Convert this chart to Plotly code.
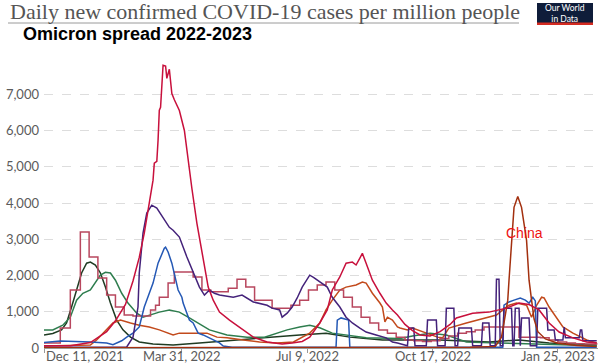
import pandas as pd
import plotly.graph_objects as go

# ---------------- data ----------------
base_date = pd.Timestamp("2021-12-11")
end_offset_days = 442

tick_dates = ["2021-12-11", "2022-03-31", "2022-07-09", "2022-10-17", "2023-01-25"]
tick_labels = ["Dec 11, 2021", "Mar 31, 2022", "Jul 9, 2022", "Oct 17, 2022", "Jan 25, 2023"]
y_ticks = [0, 1000, 2000, 3000, 4000, 5000, 6000, 7000]

# days since 2021-12-11, daily new cases per million
crimson_days = [0, 21, 37, 50, 57, 65, 71, 76, 80, 84, 87, 88, 90, 91, 92, 93, 95, 97, 98, 100,
                102, 104, 107, 108, 112, 114, 118, 122, 127, 131, 135, 140, 148, 156, 167, 178, 190, 198, 206, 212,
                220, 226, 230, 236, 241, 246, 249, 252, 254, 257, 262, 268, 273, 278, 282, 288, 294, 300, 308, 316,
                324, 329, 342, 355, 369, 379, 387, 395, 403, 411, 422, 433, 441]
crimson_vals = [60, 60, 150, 450, 750, 1200, 1850, 2500, 3170, 4080, 4630, 5100, 5150, 5730, 6560, 6640, 7800, 7780, 7440, 7690,
                7020, 6850, 6650, 6550, 6000, 5450, 4400, 3440, 2500, 1680, 1320, 990, 770, 580, 300, 165, 110, 140, 180, 300,
                690, 1050, 1600, 1960, 2340, 2370, 2290, 2480, 2610, 2340, 1870, 1510, 1240, 1050, 910, 650, 480, 360, 330, 450,
                650, 830, 960, 990, 1100, 1240, 1200, 1050, 690, 440, 280, 165, 140]

purple_days = [0, 61, 66, 71, 75, 76, 79, 82, 86, 90, 95, 100, 103, 108, 114, 119, 124, 128, 132, 136,
               140, 151, 158, 167, 178, 182, 188, 190, 194, 198, 202, 206, 212, 215, 218, 226, 230, 236, 241, 246,
               252, 257, 265, 273, 278, 282, 290, 291, 295, 296, 305, 306, 313, 314, 320, 321, 327, 328, 330, 331,
               341, 342, 349, 350, 355, 356, 360, 361, 363, 364, 366, 367, 373, 374, 375, 376, 379, 380, 381, 387,
               388, 393, 394, 401, 402, 407, 408, 414, 415, 416, 427, 428, 429, 430, 441]
purple_vals = [20, 20, 30, 300, 1130, 2070, 3170, 3720, 3940, 3860, 3610, 3330, 3250, 3060, 2510, 2070, 1680, 1460, 1600, 1510,
               1460, 1400, 1460, 1270, 1180, 1100, 1050, 850, 960, 1130, 1380, 1680, 2010, 1950, 1870, 1680, 1400, 1130, 850, 690,
               550, 440, 360, 280, 165, 140, 60, 550, 550, 60, 60, 770, 770, 60, 60, 1100, 1100, 60, 60, 550,
               550, 60, 60, 690, 690, 60, 60, 1900, 1900, 60, 60, 1100, 1100, 60, 60, 1100, 1100, 60, 830, 830,
               60, 60, 1100, 1100, 500, 500, 220, 220, 580, 280, 280, 500, 500, 200, 200]

blue_days = [0, 13, 37, 50, 55, 62, 66, 71, 76, 80, 84, 87, 91, 94, 96, 97, 99, 102, 105, 107,
             110, 111, 114, 116, 119, 122, 123, 127, 135, 140, 143, 150, 233, 234, 237, 241, 243, 244, 366, 367,
             371, 375, 380, 384, 387, 390, 392, 393, 441]
blue_vals = [150, 190, 165, 140, 90, 200, 300, 410, 580, 1130, 1510, 1790, 2340, 2610, 2750, 2780, 2650, 2340, 1870, 1600,
             1400, 1240, 960, 770, 690, 500, 410, 360, 220, 140, 55, 20, 20, 770, 830, 800, 770, 20, 20, 1180,
             1270, 1320, 1380, 1320, 1240, 1400, 1300, 20, 20]

dark_days = [0, 7, 14, 18, 22, 26, 30, 34, 37, 41, 45, 49, 53, 58, 63, 69, 76, 87, 103, 124,
             151, 178, 204, 225, 244, 270, 316, 355, 379, 403, 441]
dark_vals = [360, 400, 500, 690, 1130, 1600, 2070, 2340, 2370, 2290, 2070, 1680, 1240, 770, 500, 300, 165, 110, 80, 140,
             220, 300, 360, 410, 300, 220, 220, 165, 220, 140, 80]

green_days = [0, 7, 15, 21, 26, 31, 37, 41, 45, 49, 53, 57, 62, 67, 74, 79, 84, 92, 100, 108,
              116, 123, 132, 146, 162, 176, 194, 204, 212, 220, 230, 257, 284, 294, 308, 321, 337, 363, 395, 441]
green_vals = [500, 500, 630, 850, 1320, 1510, 1600, 1790, 2010, 2090, 2070, 1870, 1510, 1240, 960, 850, 910, 990, 1050, 990,
              830, 690, 500, 360, 300, 300, 500, 580, 630, 560, 410, 280, 260, 330, 410, 360, 165, 140, 110, 60]

rose_days = [0, 13, 21, 29, 36, 43, 50, 57, 64, 71, 85, 89, 92, 99, 104, 119, 126, 133, 147, 154,
             161, 168, 182, 197, 204, 211, 218, 225, 232, 239, 246, 253, 260, 267, 274, 281, 288, 295, 302, 309,
             316, 323, 330, 337, 344, 351, 379, 386, 396, 403, 410, 417, 424, 431, 441]
rose_vals = [140, 550, 1600, 3200, 2510, 1930, 1460, 1130, 910, 880, 1050, 1180, 1400, 1790, 2100, 1960, 1600, 1550, 1650, 1900,
             1680, 1320, 1100, 1180, 1320, 1600, 1740, 1820, 1600, 1400, 1130, 850, 690, 500, 410, 300, 220, 200, 180, 200,
             260, 330, 410, 450, 500, 580, 300, 300, 280, 220, 165, 140, 120, 110, 100]

orange_days = [0, 37, 42, 50, 55, 61, 65, 69, 76, 84, 92, 100, 103, 108, 116, 119, 130, 138, 146, 159,
               172, 186, 199, 212, 220, 225, 230, 236, 241, 249, 254, 257, 262, 268, 270, 272, 274, 278, 282, 284,
               290, 294, 305, 314, 318, 323, 337, 345, 353, 361, 366, 371, 377, 385, 389, 393, 397, 399, 403, 409,
               414, 422, 433, 441]
orange_vals = [55, 80, 220, 500, 690, 770, 720, 690, 630, 580, 500, 410, 360, 410, 410, 390, 410, 300, 280, 220,
               165, 140, 165, 410, 690, 1050, 1320, 1600, 1680, 1740, 1820, 1790, 1510, 1240, 1130, 720, 850, 770, 580, 550,
               500, 550, 410, 300, 280, 550, 690, 770, 850, 910, 1050, 1180, 1240, 1180, 850, 1180, 1400, 1380, 1130, 830,
               580, 410, 220, 140]

china_days = [0, 100, 200, 300, 340, 360, 365, 368, 370, 371, 373, 375, 378, 381, 385, 387, 389, 391, 394, 400,
              410, 425, 441]
china_vals = [5, 10, 15, 15, 20, 40, 300, 900, 1320, 1870, 2970, 3880, 4180, 3880, 2970, 1870, 1320, 800, 450, 250,
              130, 70, 40]

china_label = "China"
china_label_day = 383
china_label_value = 3170

title_text = "Daily new confirmed COVID-19 cases per million people"
subtitle_text = "Omicron spread 2022-2023"
logo_text = "Our World<br>in Data"

# ---------------- figure ----------------
W, H = 598, 363
L, R, T, B = 44, 0, 58, 15
PW, PH = W - L - R, H - T - B


def px_x(px):
    return (px - L) / PW


def px_y(py):
    return (H - B - py) / PH


def to_dates(days):
    return base_date + pd.to_timedelta(days, unit="D")


series = [
    (dark_days, dark_vals, "#1f3b22", "linear"),
    (green_days, green_vals, "#2e7d4e", "linear"),
    (orange_days, orange_vals, "#c24a1c", "linear"),
    (rose_days, rose_vals, "#b8475e", "hv"),
    (blue_days, blue_vals, "#2458b5", "linear"),
    (purple_days, purple_vals, "#44227a", "linear"),
    (china_days, china_vals, "#a3300f", "linear"),
    (crimson_days, crimson_vals, "#c8103c", "linear"),
]

fig = go.Figure()
for days, vals, color, shape in series:
    fig.add_trace(go.Scatter(x=to_dates(days), y=vals, mode="lines",
                             line=dict(color=color, width=1.5, shape=shape),
                             showlegend=False, hoverinfo="skip"))

annotations = []
for d, lab in zip(tick_dates, tick_labels):
    annotations.append(dict(x=d, y=0, xref="x", yref="paper", text=lab, showarrow=False,
                            xanchor="left" if d == tick_dates[0] else "center",
                            yanchor="middle", yshift=-8,
                            font=dict(family="Lato", size=13, color="#5b5b5b")))

annotations += [
    dict(x=px_x(8), y=px_y(12), xref="paper", yref="paper", text=title_text, showarrow=False,
         xanchor="left", yanchor="middle", font=dict(family="Liberation Serif", size=22, color="#555555")),
    dict(x=px_x(21), y=px_y(34), xref="paper", yref="paper", text="<b>" + subtitle_text + "</b>",
         showarrow=False, xanchor="left", yanchor="middle",
         font=dict(family="Liberation Sans", size=18, color="#000000")),
    dict(x=px_x(565), y=px_y(13), xref="paper", yref="paper", text=logo_text, showarrow=False,
         xanchor="center", yanchor="middle", font=dict(family="Lato", size=8.5, color="#ffffff")),
    dict(x=base_date + pd.Timedelta(days=china_label_day), y=china_label_value, xref="x", yref="y",
         text=china_label, showarrow=False, xanchor="center", yanchor="middle",
         font=dict(family="Liberation Sans", size=14, color="#ee1111")),
]

shapes = [
    dict(type="line", xref="paper", yref="paper", x0=px_x(8), x1=px_x(519), y0=px_y(23), y1=px_y(23),
         line=dict(color="#9a9a9a", width=1)),
    dict(type="rect", xref="paper", yref="paper", x0=px_x(537), x1=px_x(593), y0=px_y(25), y1=px_y(3),
         fillcolor="#0f1d3a", line=dict(width=0)),
    dict(type="rect", xref="paper", yref="paper", x0=px_x(537), x1=px_x(593), y0=px_y(25), y1=px_y(22.5),
         fillcolor="#d42b21", line=dict(width=0)),
]

fig.update_layout(
    width=W, height=H,
    margin=dict(l=L, r=R, t=T, b=B, pad=0),
    paper_bgcolor="white", plot_bgcolor="white",
    annotations=annotations, shapes=shapes,
    xaxis=dict(type="date", range=[base_date, base_date + pd.Timedelta(days=end_offset_days)],
               showgrid=False, zeroline=False, showline=True, linecolor="#9a9a9a", linewidth=1,
               ticks="outside", ticklen=4, tickcolor="#9a9a9a", tickvals=tick_dates,
               showticklabels=False),
    yaxis=dict(range=[0, 8000], tickvals=y_ticks, ticktext=[f"{v:,}" for v in y_ticks],
               showgrid=True, gridcolor="#dddddd", griddash="dash", gridwidth=1,
               zeroline=False, showline=False, ticks="",
               tickfont=dict(family="Lato", size=13, color="#5b5b5b"),
               ticklabelstandoff=4),
)

fig.write_html("out.html", config={"displayModeBar": False},
               post_script="document.body.style.margin='0';")
